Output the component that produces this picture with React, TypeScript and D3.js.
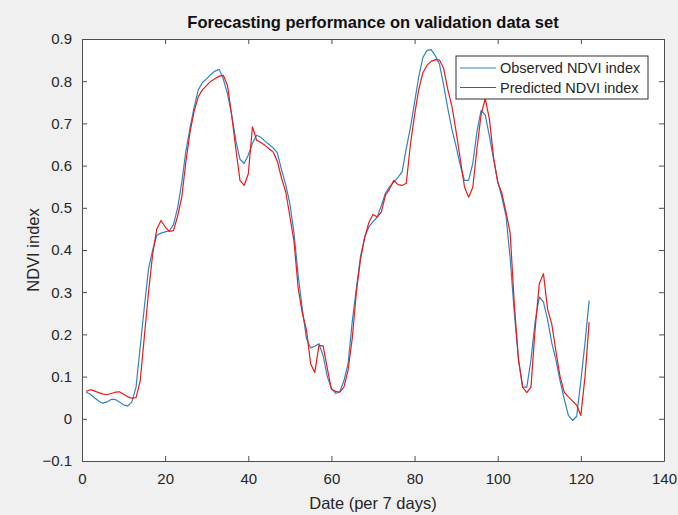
import React, { useEffect, useRef } from 'react';
import * as d3 from 'd3';

// weekly NDVI values (week 1..122)
const observed = [
  0.063, 0.058, 0.05, 0.042, 0.037, 0.04, 0.046, 0.046, 0.04, 0.033,
  0.03, 0.04, 0.075, 0.17, 0.265, 0.355, 0.4, 0.435, 0.44, 0.443,
  0.445, 0.46, 0.5, 0.56, 0.635, 0.69, 0.74, 0.78, 0.797, 0.806,
  0.816, 0.824, 0.828, 0.805, 0.77, 0.72, 0.66, 0.615, 0.605, 0.625,
  0.653, 0.672, 0.667, 0.658, 0.65, 0.642, 0.63, 0.59, 0.555, 0.51,
  0.44, 0.34, 0.26, 0.19, 0.168, 0.172, 0.178, 0.15, 0.1, 0.072,
  0.06, 0.064, 0.09, 0.13, 0.23, 0.31, 0.385, 0.43, 0.455, 0.467,
  0.478, 0.505, 0.535, 0.55, 0.561, 0.572, 0.585, 0.64, 0.69, 0.75,
  0.81, 0.856, 0.873, 0.875, 0.86, 0.84, 0.79, 0.735, 0.685, 0.645,
  0.6, 0.565, 0.565, 0.605, 0.68, 0.731, 0.72, 0.67, 0.615, 0.563,
  0.525, 0.48, 0.38, 0.25, 0.14, 0.075, 0.075, 0.14, 0.23, 0.289,
  0.277, 0.235, 0.18, 0.14, 0.09, 0.047, 0.008, -0.004, 0.006, 0.09,
  0.18, 0.28,
];

const predicted = [
  0.065, 0.069, 0.066, 0.062, 0.059, 0.057, 0.06, 0.063, 0.064, 0.058,
  0.052, 0.049, 0.05, 0.09, 0.195, 0.3, 0.39, 0.45, 0.47, 0.455,
  0.444, 0.446, 0.48, 0.525, 0.61, 0.68, 0.73, 0.764, 0.78, 0.79,
  0.8, 0.806, 0.812, 0.814, 0.79, 0.72, 0.64, 0.565, 0.553, 0.58,
  0.692, 0.66, 0.655, 0.648, 0.64, 0.632, 0.61, 0.57, 0.538, 0.48,
  0.42, 0.31, 0.25, 0.21, 0.13, 0.11, 0.174, 0.173, 0.12, 0.07,
  0.065, 0.063, 0.075, 0.115, 0.19, 0.3, 0.378, 0.43, 0.465, 0.484,
  0.478, 0.49, 0.53, 0.545, 0.565, 0.555, 0.553, 0.558, 0.65, 0.72,
  0.78, 0.82, 0.838, 0.847, 0.851, 0.85, 0.83, 0.78, 0.74, 0.68,
  0.615, 0.55, 0.525, 0.548, 0.64, 0.72, 0.759, 0.71, 0.62, 0.56,
  0.535, 0.49, 0.44, 0.27, 0.14, 0.075, 0.062, 0.075, 0.213, 0.32,
  0.344, 0.26, 0.225, 0.16, 0.1, 0.063, 0.052, 0.042, 0.032, 0.008,
  0.1, 0.229,
];

const xTicks = [0, 20, 40, 60, 80, 100, 120, 140];
const yTicks = [-0.1, 0, 0.1, 0.2, 0.3, 0.4, 0.5, 0.6, 0.7, 0.8, 0.9];
const seriesNames = ['Observed NDVI index', 'Predicted NDVI index'];
const seriesColors = ['#2e84c4', '#f01818'];

export default function App() {
  const ref = useRef<SVGSVGElement>(null);

  useEffect(() => {
    const width = 678;
    const height = 515;
    const margin = { top: 39, right: 14, bottom: 54, left: 82 };
    const w = width - margin.left - margin.right;
    const h = height - margin.top - margin.bottom;
    const font = "'Liberation Sans', Arial, Helvetica, sans-serif";
    const txt = '#262626';
    const axisCol = '#4d4d4d';

    const svg = d3.select(ref.current);
    svg.selectAll('*').remove();

    svg.append('rect').attr('width', width).attr('height', height).attr('fill', '#f0f0f0');

    const g = svg.append('g').attr('transform', `translate(${margin.left},${margin.top})`);
    g.append('rect').attr('width', w).attr('height', h).attr('fill', '#fff');

    const x = d3.scaleLinear().domain([0, 140]).range([0, w]);
    const y = d3.scaleLinear().domain([-0.1, 0.9]).range([h, 0]);

    // axes, ticks inside, box on
    const fmtY = (d: number) => (Math.abs(d) < 1e-9 ? '0' : d3.format('.1f')(d));
    const styleAxis = (sel: any) => {
      sel.select('.domain').attr('stroke', axisCol);
      sel.selectAll('.tick line').attr('stroke', axisCol);
      sel.selectAll('text').attr('fill', txt).attr('font-family', font).attr('font-size', 15);
    };

    g.append('g')
      .attr('transform', `translate(0,${h})`)
      .call(d3.axisBottom(x).tickValues(xTicks).tickSize(-5).tickSizeOuter(0).tickPadding(12))
      .call(styleAxis);
    g.append('g')
      .call(d3.axisLeft(y).tickValues(yTicks).tickFormat(fmtY as any).tickSize(-5).tickSizeOuter(0).tickPadding(10))
      .call(styleAxis);
    g.append('g')
      .call(d3.axisTop(x).tickValues(xTicks).tickSize(-5).tickSizeOuter(0).tickFormat(() => ''))
      .call(styleAxis);
    g.append('g')
      .attr('transform', `translate(${w},0)`)
      .call(d3.axisRight(y).tickValues(yTicks).tickSize(-5).tickSizeOuter(0).tickFormat(() => ''))
      .call(styleAxis);

    // lines
    const line = d3
      .line<number>()
      .x((_, i) => x(i + 1))
      .y((d) => y(d));
    [observed, predicted].forEach((s, i) => {
      g.append('path')
        .datum(s)
        .attr('fill', 'none')
        .attr('stroke', seriesColors[i])
        .attr('stroke-width', 1.2)
        .attr('stroke-linejoin', 'round')
        .attr('d', line);
    });

    // title and labels
    svg.append('text')
      .attr('x', margin.left + w / 2)
      .attr('y', 28)
      .attr('text-anchor', 'middle')
      .attr('font-family', font)
      .attr('font-weight', 'bold')
      .attr('font-size', 16.5)
      .attr('fill', '#111')
      .text('Forecasting performance on validation data set');
    svg.append('text')
      .attr('x', margin.left + w / 2)
      .attr('y', 509)
      .attr('text-anchor', 'middle')
      .attr('font-family', font)
      .attr('font-size', 16.5)
      .attr('fill', txt)
      .text('Date (per 7 days)');
    svg.append('text')
      .attr('transform', `translate(39,${margin.top + h / 2}) rotate(-90)`)
      .attr('text-anchor', 'middle')
      .attr('font-family', font)
      .attr('font-size', 16.5)
      .attr('fill', txt)
      .text('NDVI index');

    // legend
    const lg = svg.append('g').attr('transform', 'translate(456,56)');
    lg.append('rect')
      .attr('width', 192)
      .attr('height', 43)
      .attr('fill', '#fff')
      .attr('stroke', '#333')
      .attr('stroke-width', 1);
    seriesNames.forEach((n, i) => {
      const yy = 12 + i * 19.5;
      lg.append('line')
        .attr('x1', 4).attr('x2', 40).attr('y1', yy).attr('y2', yy)
        .attr('stroke', seriesColors[i]).attr('stroke-width', 1.2);
      lg.append('text')
        .attr('x', 44).attr('y', yy + 5)
        .attr('font-family', font).attr('font-size', 14.5).attr('fill', txt)
        .text(n);
    });
  }, []);

  return (
    <svg
      ref={ref}
      width={678}
      height={515}
      style={{ position: 'absolute', left: 0, top: 0, display: 'block' }}
    />
  );
}
